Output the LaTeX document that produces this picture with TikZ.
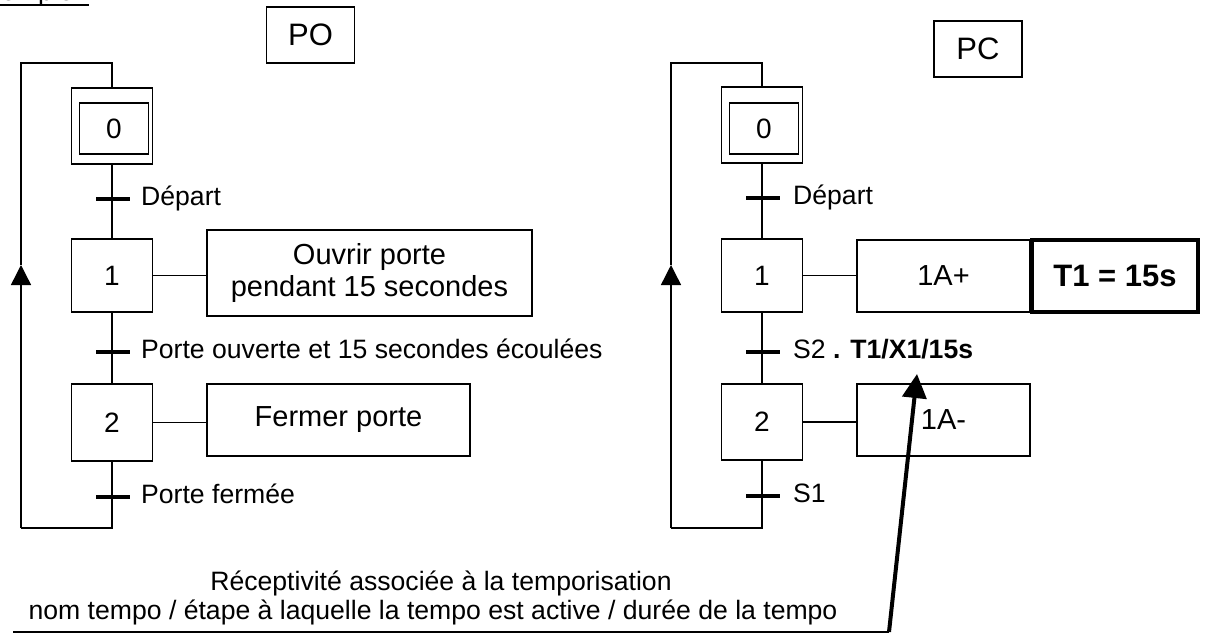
\documentclass[tikz,border=0pt]{standalone}
\usepackage{fontspec}
\setmainfont{Liberation Sans}
\usetikzlibrary{arrows.meta}

\begin{document}
\begin{tikzpicture}[x=1pt,y=-1pt,
	every node/.style={font=\fontsize{26.6}{31}\selectfont,inner sep=0pt},
	lien/.style={line width=1.4pt},
	etape/.style={draw,line width=1.4pt,minimum width=81pt,minimum height=74pt,font=\fontsize{28}{33}\selectfont},
	action/.style={draw,line width=1.4pt,align=center,font=\fontsize{29}{32}\selectfont},
	transi/.style={fill,minimum width=34pt,minimum height=4.5pt},
	recep/.style={anchor=base west},
	titre/.style={draw,line width=1.4pt,minimum width=88pt,minimum height=56pt,font=\fontsize{31}{36}\selectfont}]
	\useasboundingbox (0,0) rectangle (1206,634);
	
	\node[anchor=base west] (ex) at (-30,1) {Exemple :};
	\draw[lien] ([yshift=-4pt]ex.base west) -- ([yshift=-4pt]ex.base east);
	
	\node[titre] (po) at (310.5,35) {PO};
	\node[titre] (pc) at (978,49) {PC};
	
	% grafcet PO
	\node[etape,minimum height=76pt] (po0) at (112,126) {};
	\node[draw,line width=1.4pt,minimum width=69pt,minimum height=51pt,font=\fontsize{28}{33}\selectfont] (po0i) at (114,128.5) {0};
	\node[etape,minimum height=73pt] (po1) at (112,275.5) {1};
	\node[etape,minimum height=77pt] (po2) at (112,422.5) {2};
	\draw[lien] (po0) -- (po1);
	\draw[lien] (po1) -- (po2);
	
	\node[transi] (pot1) at (113,199) {};
	\node[transi] (pot2) at (113,352) {};
	\node[transi] (pot3) at (113,497) {};
	\node[recep] (pot1l) at (141,205.5) {Départ};
	\node[recep] (pot2l) at (141,358.5) {Porte ouverte et 15 secondes écoulées};
	\node[recep] (pot3l) at (141,503.5) {Porte fermée};
	
	\node[action,minimum width=325pt,minimum height=86pt] (poa1) at (369.5,273) {Ouvrir porte\\pendant 15 secondes};
	\node[action,minimum width=263pt,minimum height=72pt] (poa2) at (338.5,420) {Fermer porte};
	\draw[lien] (po1.east) -- (po1.east -| poa1.west);
	\draw[lien] (po2.east) -- (po2.east -| poa2.west);
	
	\coordinate (poB) at (21,528);
	\coordinate (poF) at (21,265);
	\coordinate (poH) at (21,63);
	\draw[lien] (po2) |- (poB);
	\draw[lien,-{Triangle[length=20pt,width=20pt]}] (poB) -- (poF);
	\draw[lien] (poF) -- (poH) -| (po0);
	
	% grafcet PC
	\node[etape,minimum height=76pt] (pc0) at (762,125) {};
	\node[draw,line width=1.4pt,minimum width=69pt,minimum height=51pt,font=\fontsize{28}{33}\selectfont] (pc0i) at (764,128.5) {0};
	\node[etape,minimum height=73pt] (pc1) at (762,275.5) {1};
	\node[etape,minimum height=76pt] (pc2) at (762,422) {2};
	\draw[lien] (pc0) -- (pc1);
	\draw[lien] (pc1) -- (pc2);
	
	\node[transi] (pct1) at (763,198) {};
	\node[transi] (pct2) at (763,352) {};
	\node[transi] (pct3) at (763,496) {};
	\node[recep] (pct1l) at (793,204.5) {Départ};
	\node[recep] (pct2l) at (793,358.5) {S2 \textbf{. T1/X1/15s}};
	\node[recep] (pct3l) at (793,502.5) {S1};
	
	\node[action,minimum width=173pt,minimum height=72pt] (pca1) at (943.5,276) {1A+};
	\node[draw,line width=4pt,minimum width=166pt,minimum height=72pt,font=\bfseries\fontsize{31}{36}\selectfont] (tempo) at (1115,275.5) {T1 = 15s};
	\node[action,minimum width=173pt,minimum height=72pt] (pca2) at (943.5,420) {1A-};
	\draw[lien] (pc1.east) -- (pc1.east -| pca1.west);
	\draw[lien] (pc2.east) -- (pc2.east -| pca2.west);
	
	\coordinate (pcB) at (671,528);
	\coordinate (pcF) at (671,265);
	\coordinate (pcH) at (671,63);
	\draw[lien] (pc2) |- (pcB);
	\draw[lien,-{Triangle[length=20pt,width=20pt]}] (pcB) -- (pcF);
	\draw[lien] (pcF) -- (pcH) -| (pc0);
	
	% note temporisation
	\node[anchor=base] (note1) at (441,590) {Réceptivité associée à la temporisation};
	\node[anchor=base] (note2) at (433,619) {nom tempo / étape à laquelle la tempo est active / durée de la tempo};
	\coordinate (noteG) at (13,632);
	\coordinate (noteD) at (889,632);
	\coordinate (cible) at (917,374);
	\draw[lien] (noteG) -- (noteD);
	\draw[line width=4pt,-{Triangle[length=24pt,width=24pt]}] (noteD) -- (cible);
\end{tikzpicture}
\end{document}
